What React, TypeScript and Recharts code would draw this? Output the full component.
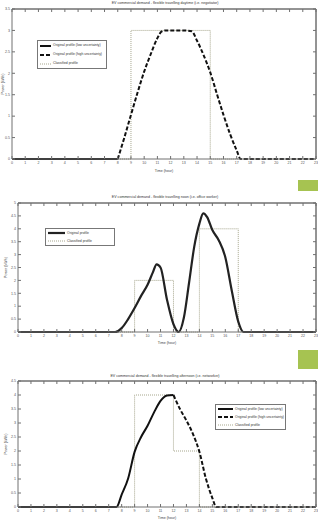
import { LineChart, Line, XAxis, YAxis, Legend, Label, ReferenceLine } from 'recharts';

const hourTicks = [0, 1, 2, 3, 4, 5, 6, 7, 8, 9, 10, 11, 12, 13, 14, 15, 16, 17, 18, 19, 20, 21, 22, 23];

// chart 1 - daytime (negotiator)
const daytimeTicks = [0, 0.5, 1, 1.5, 2, 2.5, 3, 3.5];
const daytimeLowHours = [0, 8];
const daytimeLow = [0, 0];
const daytimeHighHours = [8, 8.5, 9, 9.5, 10, 10.5, 11, 11.3, 11.6, 12, 13, 13.6, 14, 14.5, 15, 15.5, 16, 16.5, 17, 17.3, 18, 23];
const daytimeHigh = [0, 0.5, 1.03, 1.55, 2.04, 2.45, 2.82, 2.97, 3.0, 3.0, 3.0, 2.98, 2.76, 2.42, 2.02, 1.52, 1.03, 0.58, 0.2, 0, 0, 0];
const daytimeClassHours = [0, 9, 9, 15, 15, 23];
const daytimeClass = [0, 0, 3, 3, 0, 0];

// chart 2 - noon (office worker)
const noonTicks = [0, 0.5, 1, 1.5, 2, 2.5, 3, 3.5, 4, 4.5, 5];
const noonHours = [0, 7.5, 8, 8.5, 9, 9.5, 10, 10.4, 10.7, 11, 11.5, 12, 12.4, 12.8, 13.2, 13.6, 14, 14.3, 14.6, 15, 15.5, 16, 16.5, 17, 17.4, 23];
const noonProfile = [0, 0, 0.15, 0.5, 0.93, 1.4, 1.83, 2.3, 2.62, 2.5, 1.25, 0.3, 0, 0.55, 1.9, 3.3, 4.2, 4.6, 4.45, 3.95, 3.55, 2.9, 1.6, 0.4, 0, 0];
const noonClassHours = [0, 9, 9, 12, 12, 14, 14, 17, 17, 23];
const noonClass = [0, 0, 2, 2, 0, 0, 4, 4, 0, 0];

// chart 3 - afternoon (networker)
const afternoonTicks = [0, 0.5, 1, 1.5, 2, 2.5, 3, 3.5, 4, 4.5];
const afternoonLowHours = [0, 7.6, 8, 8.5, 9, 9.5, 10, 10.5, 11, 11.5, 12];
const afternoonLow = [0, 0, 0.44, 1.02, 1.97, 2.5, 2.9, 3.38, 3.79, 3.98, 4.0];
const afternoonHighHours = [12, 12.5, 13, 13.5, 14, 14.5, 15, 15.3, 23];
const afternoonHigh = [4.0, 3.5, 3.09, 2.61, 1.97, 1.02, 0.32, 0, 0];
const afternoonClassHours = [0, 9, 9, 12, 12, 14, 14, 23];
const afternoonClass = [0, 0, 4, 4, 2, 2, 0, 0];

const font = '"Liberation Sans", Arial, sans-serif';
const axisColor = '#707070';
const textColor = '#555';
const classColor = '#8f8f70';

const toPoints = (hours: number[], values: number[]) => hours.map((t, i) => ({ t, p: values[i] }));

type LegendItem = { label: string; color: string; width: number; dash?: string };

const legendLow: LegendItem = { label: 'Original profile (low uncertainty)', color: '#111', width: 2 };
const legendHigh: LegendItem = { label: 'Original profile (high uncertainty)', color: '#111', width: 2, dash: '4 2' };
const legendOrig: LegendItem = { label: 'Original profile', color: '#222', width: 2.2 };
const legendClass: LegendItem = { label: 'Classified profile', color: classColor, width: 0.8, dash: '1 1' };

function BoxLegend({ items, sample, rowHeight }: { items: LegendItem[]; sample: number; rowHeight: number }) {
  return (
    <div
      style={{
        boxSizing: 'border-box',
        border: '0.6px solid #777',
        background: '#fff',
        padding: '0 2px',
        fontFamily: font,
        fontSize: 3.4,
        color: '#333',
        lineHeight: `${rowHeight}px`,
      }}
    >
      {items.map((it) => (
        <div key={it.label} style={{ display: 'flex', alignItems: 'center', height: rowHeight }}>
          <svg width={sample} height={4} style={{ flexShrink: 0 }}>
            <line x1={0} y1={2} x2={sample} y2={2} stroke={it.color} strokeWidth={it.width} strokeDasharray={it.dash} />
          </svg>
          <span style={{ marginLeft: 2, whiteSpace: 'nowrap' }}>{it.label}</span>
        </div>
      ))}
    </div>
  );
}

const noLabel = () => <g />;

interface PanelProps {
  top: number;
  height: number;
  marginTop: number;
  axisWidth: number;
  axisHeight: number;
  labelOffset: number;
  yTicks: number[];
  title: string;
  titleY: number;
  classHours: number[];
  classValues: number[];
  legend: { left: number; top: number; width: number; items: LegendItem[]; sample: number; rowHeight: number };
  children: React.ReactNode;
}

function Panel(p: PanelProps) {
  const yMax = p.yTicks[p.yTicks.length - 1];
  return (
    <div style={{ position: 'absolute', left: 0, top: p.top, width: 318, height: p.height }}>
      <LineChart width={318} height={p.height} margin={{ top: 0, right: 0, bottom: 0, left: 0 }}>
        <XAxis
          dataKey="t"
          type="number"
          domain={[0, 23]}
          ticks={hourTicks}
          interval={0}
          height={p.axisHeight}
          tickSize={-3}
          tickMargin={5}
          tick={{ fontSize: 3.6, fill: textColor, fontFamily: font }}
          stroke={axisColor}
          strokeWidth={1}
        >
          <Label value="Time (hour)" position="insideBottom" offset={p.labelOffset} fontSize={3.6} fill="#444" fontFamily={font} />
        </XAxis>
        {/* top and right axes close the box frame, ticks pointing inward */}
        <XAxis
          xAxisId="top"
          orientation="top"
          dataKey="t"
          type="number"
          domain={[0, 23]}
          ticks={hourTicks}
          interval={0}
          height={p.marginTop}
          tickSize={-3}
          tick={noLabel}
          stroke={axisColor}
          strokeWidth={1}
        />
        <YAxis
          type="number"
          domain={[0, yMax]}
          ticks={p.yTicks}
          interval={0}
          width={p.axisWidth}
          tickSize={-3}
          tickMargin={5}
          tick={{ fontSize: 3.6, fill: textColor, fontFamily: font }}
          stroke={axisColor}
          strokeWidth={1}
        >
          <Label
            value="Power (kWh)"
            angle={-90}
            position="insideLeft"
            offset={p.axisWidth === 12 ? 3 : 6}
            fontSize={3.6}
            fill="#444"
            fontFamily={font}
            style={{ textAnchor: 'middle' }}
          />
        </YAxis>
        <YAxis
          yAxisId="right"
          orientation="right"
          type="number"
          domain={[0, yMax]}
          ticks={p.yTicks}
          interval={0}
          width={2}
          tickSize={-3}
          tick={noLabel}
          stroke={axisColor}
          strokeWidth={1}
        />
        <ReferenceLine y={yMax} stroke={axisColor} strokeWidth={1} ifOverflow="visible" />
        <ReferenceLine x={23} stroke={axisColor} strokeWidth={1} ifOverflow="visible" />
        <Legend
          layout="vertical"
          align="center"
          verticalAlign="middle"
          wrapperStyle={{ left: p.legend.left, top: p.legend.top, width: p.legend.width }}
          content={() => <BoxLegend items={p.legend.items} sample={p.legend.sample} rowHeight={p.legend.rowHeight} />}
        />
        <Line
          xAxisId="top"
          yAxisId="right"
          data={toPoints(p.classHours, p.classValues)}
          dataKey="p"
          type="linear"
          stroke={classColor}
          strokeWidth={0.8}
          strokeDasharray="1 1"
          dot={false}
          isAnimationActive={false}
        />
        {p.children}
      </LineChart>
      <div
        style={{
          position: 'absolute',
          left: 165,
          top: p.titleY - 2,
          transform: 'translateX(-50%)',
          whiteSpace: 'nowrap',
          fontFamily: font,
          fontSize: 3.6,
          lineHeight: '4px',
          color: '#333',
        }}
      >
        {p.title}
      </div>
    </div>
  );
}

function GreenMark({ top, height }: { top: number; height: number }) {
  return <div style={{ position: 'absolute', left: 298, top, width: 20, height, background: '#a6c351' }} />;
}

export default function App() {
  return (
    <div style={{ position: 'absolute', left: 0, top: 0, width: 318, height: 522, background: '#fff', overflow: 'hidden' }}>
      <Panel
        top={0}
        height={175}
        marginTop={9}
        axisWidth={12}
        axisHeight={16}
        labelOffset={3}
        yTicks={daytimeTicks}
        title="EV commercial demand - flexible travelling daytime (i.e. negotiator)"
        titleY={3}
        classHours={daytimeClassHours}
        classValues={daytimeClass}
        legend={{ left: 37, top: 40, width: 70, items: [legendLow, legendHigh, legendClass], sample: 11, rowHeight: 9 }}
      >
        <Line data={toPoints(daytimeLowHours, daytimeLow)} dataKey="p" type="linear" stroke="#111" strokeWidth={2} dot={false} isAnimationActive={false} />
        <Line data={toPoints(daytimeHighHours, daytimeHigh)} dataKey="p" type="monotone" stroke="#111" strokeWidth={2} strokeDasharray="4 2" dot={false} isAnimationActive={false} />
      </Panel>

      <GreenMark top={180} height={11} />
      <Panel
        top={190}
        height={160}
        marginTop={13}
        axisWidth={18}
        axisHeight={18}
        labelOffset={6}
        yTicks={noonTicks}
        title="EV commercial demand - flexible travelling noon (i.e. office worker)"
        titleY={197 - 190}
        classHours={noonClassHours}
        classValues={noonClass}
        legend={{ left: 45, top: 38, width: 70, items: [legendOrig, legendClass], sample: 17, rowHeight: 8 }}
      >
        <Line data={toPoints(noonHours, noonProfile)} dataKey="p" type="monotone" stroke="#222" strokeWidth={2.2} dot={false} isAnimationActive={false} />
      </Panel>

      <GreenMark top={350} height={19} />
      <Panel
        top={365}
        height={157}
        marginTop={16}
        axisWidth={18}
        axisHeight={15}
        labelOffset={3}
        yTicks={afternoonTicks}
        title="EV commercial demand - flexible travelling afternoon (i.e. networker)"
        titleY={376 - 365}
        classHours={afternoonClassHours}
        classValues={afternoonClass}
        legend={{ left: 215, top: 39, width: 71, items: [legendLow, legendHigh, legendClass], sample: 15, rowHeight: 8 }}
      >
        <Line data={toPoints(afternoonLowHours, afternoonLow)} dataKey="p" type="monotone" stroke="#111" strokeWidth={2} dot={false} isAnimationActive={false} />
        <Line data={toPoints(afternoonHighHours, afternoonHigh)} dataKey="p" type="monotone" stroke="#111" strokeWidth={2} strokeDasharray="4 2" dot={false} isAnimationActive={false} />
      </Panel>
    </div>
  );
}
